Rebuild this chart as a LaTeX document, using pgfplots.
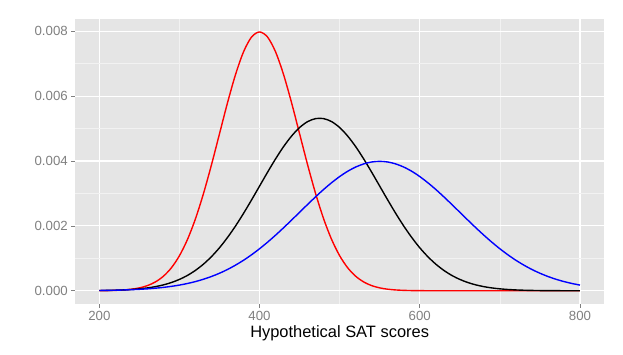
\documentclass[border=0pt]{standalone}
\usepackage{fontspec}
\setmainfont{Liberation Sans}
\usepackage{pgfplots}
\pgfplotsset{compat=1.18}
\definecolor{panel}{HTML}{E5E5E5}
\definecolor{minorgrid}{HTML}{F2F2F2}
\definecolor{ticktext}{HTML}{7F7F7F}

\begin{document}
\begin{tikzpicture}
\begin{axis}[
  at={(75.3bp,51.3bp)}, anchor=south west,
  scale only axis, width=528.7bp, height=284.7bp,
  xmin=170, xmax=830, ymin=-0.000399, ymax=0.008378,
  axis background/.style={fill=panel},
  axis line style={draw=none},
  xtick={200,400,600,800}, ytick={0,0.002,0.004,0.006,0.008},
  minor xtick={300,500,700}, minor ytick={0.001,0.003,0.005,0.007},
  grid=both,
  major grid style={white,line width=1.1bp},
  minor grid style={minorgrid,line width=0.6bp},
  tick align=outside, xtick pos=left, ytick pos=left,
  major tick length=4bp, minor tick length=0pt,
  tick style={ticktext,line width=0.6bp},
  scaled y ticks=false,
  yticklabel style={/pgf/number format/.cd,fixed,fixed zerofill,precision=3},
  /pgf/number format/assume math mode=true,
  ticklabel style={font=\fontsize{13.3}{15}\selectfont, text=ticktext},
  xlabel={Hypothetical SAT scores},
  xlabel style={font=\fontsize{16.5}{19}\selectfont, at={(axis description cs:0.5,0)}, anchor=north, inner sep=0pt, yshift=-22bp},
  every axis plot/.append style={line width=1.4bp, mark=none, smooth, tension=0.5, line join=round},
]
% red: mean 400
\addplot[red] coordinates {
(200,0.0000027) (210,0.0000058) (220,0.0000122) (230,0.0000246) (240,0.0000477)
(250,0.0000886) (260,0.000158) (270,0.000272) (280,0.000448) (290,0.000709)
(300,0.001080) (310,0.001579) (320,0.002218) (330,0.002995) (340,0.003884)
(350,0.004839) (360,0.005794) (370,0.006664) (380,0.007365) (390,0.007821)
(400,0.007979) (410,0.007821) (420,0.007365) (430,0.006664) (440,0.005794)
(450,0.004839) (460,0.003884) (470,0.002995) (480,0.002218) (490,0.001579)
(500,0.001080) (510,0.000709) (520,0.000448) (530,0.000272) (540,0.000158)
(550,0.0000886) (560,0.0000477) (570,0.0000246) (580,0.0000122) (590,0.0000058)
(600,0.0000027) (610,0.0000012) (620,0.0000005) (630,0.0000002) (640,0)
(700,0) (800,0)
};
% black: mean 475
\addplot[black] coordinates {
(200,0.0000064) (210,0.0000103) (220,0.0000164) (230,0.0000256) (240,0.0000393)
(250,0.0000591) (260,0.0000874) (270,0.000127) (280,0.000181) (290,0.000254)
(300,0.000350) (310,0.000473) (320,0.000629) (330,0.000821) (340,0.001053)
(350,0.001326) (360,0.001642) (370,0.001996) (380,0.002385) (390,0.002799)
(400,0.003226) (410,0.003654) (420,0.004065) (430,0.004443) (440,0.004770)
(450,0.005032) (460,0.005214) (470,0.005307) (480,0.005307)
(490,0.005214) (500,0.005032) (510,0.004770) (520,0.004443) (530,0.004065)
(540,0.003654) (550,0.003226) (560,0.002799) (570,0.002385) (580,0.001996)
(590,0.001642) (600,0.001326) (610,0.001053) (620,0.000821) (630,0.000629)
(640,0.000473) (650,0.000350) (660,0.000254) (670,0.000181) (680,0.000127)
(690,0.0000874) (700,0.0000591) (710,0.0000393) (720,0.0000256) (730,0.0000164)
(740,0.0000103) (750,0.0000064) (760,0.0000039) (770,0.0000023) (780,0.0000014)
(790,0.0000008) (800,0.0000004)
};
% blue: mean 550
\addplot[blue] coordinates {
(200,0.0000087) (210,0.0000123) (220,0.0000172) (230,0.0000238) (240,0.0000327)
(250,0.0000443) (260,0.0000595) (270,0.0000792) (280,0.000104) (290,0.000136)
(300,0.000175) (310,0.000224) (320,0.000283) (330,0.000355) (340,0.000440)
(350,0.000540) (360,0.000656) (370,0.000790) (380,0.000940) (390,0.001109)
(400,0.001295) (410,0.001497) (420,0.001714) (430,0.001942) (440,0.002179)
(450,0.002420) (460,0.002661) (470,0.002897) (480,0.003123) (490,0.003332)
(500,0.003521) (510,0.003683) (520,0.003814) (530,0.003910) (540,0.003970)
(550,0.003989) (560,0.003970) (570,0.003910) (580,0.003814) (590,0.003683)
(600,0.003521) (610,0.003332) (620,0.003123) (630,0.002897) (640,0.002661)
(650,0.002420) (660,0.002179) (670,0.001942) (680,0.001714) (690,0.001497)
(700,0.001295) (710,0.001109) (720,0.000940) (730,0.000790) (740,0.000656)
(750,0.000540) (760,0.000440) (770,0.000355) (780,0.000283) (790,0.000224)
(800,0.000175)
};
\end{axis}
\pgfresetboundingbox
\useasboundingbox (0,0) rectangle (623bp,355bp);
\end{tikzpicture}
\end{document}
